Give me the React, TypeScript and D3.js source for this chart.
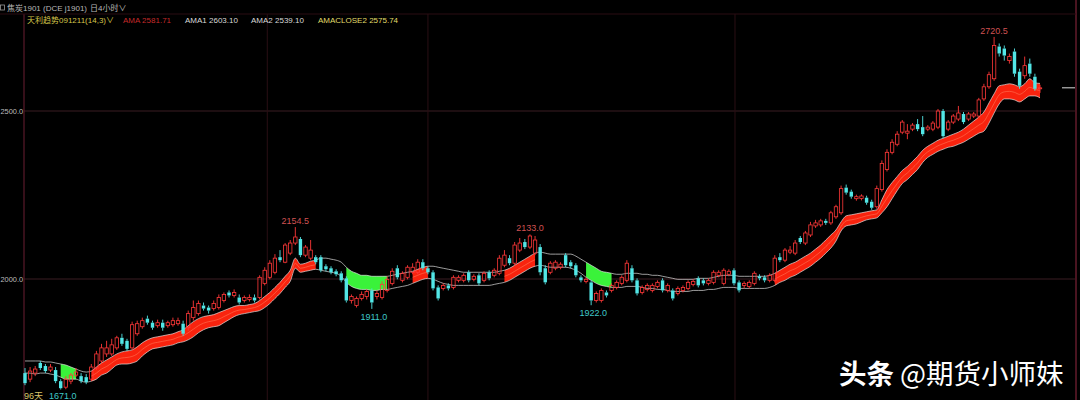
import React from 'react';
import * as d3 from 'd3';

// [open, high, low, close]
const candles: [number, number, number, number][] = [
  [1720,1735,1684,1690],[1702,1738,1693,1726],[1720,1741,1711,1732],[1750,1756,1729,1735],[1741,1747,1720,1726],
  [1729,1747,1723,1738],[1729,1738,1690,1696],[1696,1702,1671,1675],[1678,1711,1672,1702],[1696,1720,1687,1714],
  [1714,1735,1708,1723],[1711,1720,1690,1696],[1708,1717,1687,1693],[1702,1747,1696,1738],[1735,1786,1729,1777],
  [1756,1807,1750,1795],[1777,1816,1768,1795],[1777,1822,1771,1804],[1795,1831,1789,1825],[1825,1837,1801,1807],
  [1816,1822,1786,1792],[1795,1873,1789,1864],[1837,1876,1831,1867],[1858,1885,1852,1876],[1882,1891,1864,1870],
  [1870,1876,1849,1855],[1861,1879,1855,1870],[1870,1879,1846,1855],[1861,1876,1855,1870],[1864,1885,1858,1876],
  [1867,1885,1861,1876],[1867,1876,1831,1837],[1855,1906,1846,1897],[1885,1936,1876,1915],[1897,1936,1891,1927],
  [1921,1930,1906,1912],[1915,1921,1897,1906],[1912,1936,1906,1927],[1915,1954,1909,1945],[1936,1960,1930,1954],
  [1960,1966,1945,1951],[1951,1969,1945,1960],[1945,1954,1924,1930],[1936,1951,1930,1945],[1939,1954,1933,1945],
  [1945,1954,1930,1936],[1945,2011,1939,2005],[1987,2035,1981,2026],[2005,2056,1999,2047],[2020,2074,2014,2062],
  [2065,2086,2050,2056],[2050,2107,2047,2101],[2077,2116,2071,2107],[2107,2154.5,2101,2125],[2119,2125,2065,2071],
  [2071,2101,2065,2095],[2062,2116,2056,2086],[2065,2071,2044,2050],[2065,2071,2020,2026],[2038,2044,2023,2029],
  [2032,2038,2014,2020],[2023,2029,2008,2014],[2017,2023,1990,1996],[2002,2008,1930,1936],[1936,1954,1927,1948],
  [1921,1948,1915,1942],[1942,1963,1936,1954],[1948,1969,1939,1963],[1966,1972,1911,1930],[1948,1966,1939,1957],
  [1945,1993,1939,1984],[1966,2008,1960,1999],[1987,2032,1981,2023],[2032,2041,1999,2005],[1996,2023,1990,2017],
  [2005,2041,1999,2035],[2020,2047,2014,2035],[2020,2059,2014,2050],[2050,2059,2026,2032],[2032,2038,2014,2020],
  [2020,2026,1966,1972],[1975,1981,1936,1942],[1972,1987,1966,1981],[1981,1987,1966,1972],[1975,2011,1969,2005],
  [1996,2011,1990,2005],[1996,2017,1990,2011],[2020,2026,1990,1996],[1999,2014,1993,2008],[2011,2017,1981,1987],
  [1996,2023,1990,2017],[2020,2026,1996,2002],[2011,2032,2005,2026],[2017,2071,2011,2062],[2041,2086,2035,2071],
  [2062,2071,2041,2047],[2047,2110,2041,2101],[2086,2122,2080,2107],[2110,2119,2089,2095],[2095,2133,2089,2128],
  [2077,2128,2071,2116],[2095,2104,2011,2020],[2032,2041,1984,1990],[2020,2053,2014,2047],[2032,2056,2026,2050],
  [2035,2050,2029,2044],[2071,2077,2035,2041],[2050,2056,2032,2038],[2041,2047,2005,2011],[2005,2011,1990,1996],
  [1993,2005,1987,1999],[1990,1996,1922,1936],[1936,1963,1930,1957],[1936,1972,1930,1966],[1960,1966,1945,1951],
  [1966,1987,1960,1981],[1975,1996,1969,1990],[1987,2011,1981,2005],[1996,2056,1990,2047],[2032,2041,1990,1996],
  [1996,2002,1951,1957],[1960,1981,1954,1975],[1969,1987,1963,1981],[1966,1987,1960,1981],[1978,1996,1972,1990],
  [1996,2002,1960,1966],[1966,1987,1960,1981],[1966,1972,1936,1942],[1957,1978,1951,1972],[1966,1981,1960,1975],
  [1972,1996,1966,1990],[1984,1999,1978,1993],[2002,2008,1975,1981],[1996,2002,1981,1987],[1987,2002,1981,1996],
  [1990,2026,1984,2020],[2011,2026,2005,2020],[1987,2032,1981,2026],[2014,2029,2008,2023],[2026,2032,1981,1987],
  [1990,1996,1960,1966],[1981,1993,1972,1987],[1978,1996,1972,1990],[1987,2023,1981,2017],[2008,2014,1996,2002],
  [2005,2011,1990,1996],[1996,2017,1990,2011],[1996,2071,1990,2062],[2065,2077,2050,2056],[2056,2092,2050,2086],
  [2080,2098,2074,2086],[2077,2116,2071,2107],[2122,2128,2104,2110],[2107,2143,2101,2137],[2131,2170,2125,2161],
  [2158,2176,2152,2167],[2161,2179,2155,2173],[2173,2179,2161,2167],[2167,2203,2161,2197],[2185,2221,2179,2215],
  [2197,2278,2191,2269],[2272,2281,2251,2257],[2260,2266,2239,2245],[2239,2251,2233,2245],[2240,2252,2234,2247],
  [2242,2248,2221,2227],[2230,2236,2206,2212],[2215,2278,2209,2269],[2266,2353,2260,2344],[2326,2386,2320,2377],
  [2377,2416,2371,2407],[2401,2440,2395,2431],[2437,2473,2431,2467],[2434,2461,2416,2440],[2446,2464,2440,2458],
  [2461,2476,2440,2446],[2452,2485,2425,2431],[2446,2458,2440,2452],[2446,2470,2440,2464],[2452,2506,2446,2500],
  [2500,2506,2419,2425],[2446,2473,2440,2467],[2467,2491,2461,2485],[2476,2515,2470,2494],[2491,2497,2461,2467],
  [2476,2497,2470,2491],[2485,2497,2479,2491],[2485,2539,2479,2533],[2536,2581,2530,2572],[2572,2617,2566,2608],
  [2596,2720.5,2590,2695],[2692,2701,2662,2671],[2686,2695,2650,2665],[2650,2671,2641,2662],[2677,2686,2602,2611],
  [2617,2626,2566,2575],[2605,2662,2596,2635],[2641,2656,2602,2611],[2602,2611,2560,2566],[2566,2578,2554,2569],
];

const amaUpper: number[] = [
  1756,1756,1756,1756,1753,1753,1750,1747,1744,1738,
  1732,1726,1723,1726,1738,1750,1759,1768,1777,1783,
  1786,1789,1798,1810,1819,1825,1828,1831,1834,1837,
  1843,1849,1861,1873,1882,1888,1891,1894,1900,1906,
  1912,1918,1921,1921,1924,1927,1936,1948,1960,1975,
  1990,2008,2026,2062,2044,2047,2053,2056,2062,2062,
  2059,2056,2050,2035,2023,2017,2011,2011,2008,2008,
  2008,2008,2011,2014,2017,2020,2023,2029,2035,2038,
  2038,2035,2032,2029,2026,2023,2020,2020,2020,2020,
  2020,2020,2020,2023,2026,2032,2041,2050,2059,2068,
  2077,2080,2077,2074,2074,2074,2074,2074,2068,2059,
  2050,2041,2032,2023,2020,2017,2014,2014,2017,2017,
  2017,2014,2014,2011,2011,2008,2005,2002,1999,1999,
  1999,1999,2002,2002,2002,2005,2008,2011,2011,2011,
  2008,2008,2008,2008,2008,2008,2011,2017,2026,2035,
  2044,2050,2059,2068,2077,2089,2101,2116,2131,2146,
  2170,2188,2191,2194,2197,2200,2203,2206,2236,2266,
  2287,2305,2323,2335,2350,2365,2383,2395,2404,2413,
  2419,2425,2431,2437,2446,2458,2470,2482,2497,2524,
  2551,2575,2578,2581,2578,2572,2581,2596,2584,2582,
];

const amaLower: number[] = [
  1720,1720,1717,1720,1720,1717,1714,1708,1702,1702,
  1702,1696,1693,1696,1702,1714,1720,1732,1744,1747,
  1747,1750,1756,1771,1783,1792,1795,1798,1801,1804,
  1810,1813,1819,1828,1840,1849,1855,1858,1861,1870,
  1879,1888,1894,1897,1900,1903,1906,1915,1927,1942,
  1957,1975,1993,2032,2020,2023,2026,2029,2026,2023,
  2020,2017,2008,1990,1978,1972,1969,1969,1966,1966,
  1969,1969,1972,1975,1978,1981,1987,1993,1999,2002,
  1999,1993,1987,1984,1981,1981,1981,1981,1981,1981,
  1981,1981,1984,1987,1990,1996,2005,2014,2023,2032,
  2038,2041,2038,2035,2035,2035,2035,2032,2026,2017,
  2005,1996,1987,1981,1978,1975,1975,1975,1978,1978,
  1978,1975,1972,1972,1969,1969,1966,1963,1963,1963,
  1963,1966,1966,1966,1969,1969,1972,1975,1975,1975,
  1972,1972,1972,1972,1972,1972,1975,1981,1990,1996,
  2005,2011,2020,2029,2038,2050,2062,2077,2092,2113,
  2143,2158,2161,2164,2170,2176,2179,2182,2197,2215,
  2239,2263,2284,2296,2311,2326,2347,2362,2371,2380,
  2386,2392,2395,2401,2407,2416,2425,2434,2440,2464,
  2494,2521,2536,2536,2533,2527,2536,2545,2545,2539,
];

// trend fill segments (candle index ranges)
const fillSegments: { from: number; to: number; trend: 'up' | 'down' }[] = [
  { from: 7, to: 10, trend: 'down' },
  { from: 13, to: 57, trend: 'up' },
  { from: 63, to: 71, trend: 'down' },
  { from: 76, to: 79, trend: 'up' },
  { from: 94, to: 100, trend: 'up' },
  { from: 110, to: 115, trend: 'down' },
  { from: 147, to: 199, trend: 'up' },
];

const yTicks = [2000, 2500];
const highLabels = [{ i: 53, v: 2154.5 }, { i: 99, v: 2133.0 }, { i: 190, v: 2720.5 }];
const lowLabels = [{ i: 7, v: 1671.0 }, { i: 68, v: 1911.0 }, { i: 111, v: 1922.0 }];
const separators = [47.5, 79, 139.2];

const legendItems = [
  { text: 'AMA 2581.71', color: '#c42a2a', x: 123 },
  { text: 'AMA1 2603.10', color: '#d8d8d8', x: 185 },
  { text: 'AMA2 2539.10', color: '#d8d8d8', x: 251 },
  { text: 'AMACLOSE2 2575.74', color: '#e0dc6a', x: 318 },
];

const W = 1080;
const H = 400;
const UP = '#ff3838';
const DOWN = '#52e6e6';

export default function App() {
  const n = candles.length;
  const x = d3.scaleLinear().domain([0, n - 1]).range([25, 1040]);
  const y = d3.scaleLinear().domain([2000, 2500]).range([279, 111]);
  const bw = 3.4;

  const area = d3
    .area<number>()
    .x((i) => x(i))
    .y0((i) => y(amaLower[i]))
    .y1((i) => y(amaUpper[i]))
    .curve(d3.curveMonotoneX);
  const lineU = d3.line<number>().x((i) => x(i)).y((i) => y(amaUpper[i])).curve(d3.curveMonotoneX);
  const lineL = d3.line<number>().x((i) => x(i)).y((i) => y(amaLower[i])).curve(d3.curveMonotoneX);
  const lineM = d3
    .line<number>()
    .x((i) => x(i))
    .y((i) => y((amaUpper[i] + amaLower[i]) / 2))
    .curve(d3.curveMonotoneX);
  const idx = d3.range(n);
  const last = candles[n - 1][3];

  return (
    <svg
      width={W}
      height={H}
      style={{ position: 'absolute', left: 0, top: 0, background: '#000', display: 'block' }}
      fontFamily="'Liberation Sans', 'Noto Sans CJK SC', sans-serif"
    >
      <rect x={0} y={0} width={W} height={H} fill="#000" />
      {/* grid */}
      {yTicks.map((t) => (
        <g key={t}>
          <line x1={24} x2={1076} y1={y(t)} y2={y(t)} stroke="#3a1c22" strokeWidth={1} />
          <text x={0.5} y={y(t) + 3} fontSize={7.4} fill="#bdbdbd" textAnchor="start">
            {t.toFixed(1)}
          </text>
        </g>
      ))}
      {separators.map((s) => (
        <line key={s} x1={x(s)} x2={x(s)} y1={14} y2={H} stroke="#2a0f14" strokeWidth={1} />
      ))}
      <line x1={24} x2={24} y1={14} y2={H} stroke="#5a1a2a" strokeWidth={1.2} />
      <line x1={1076} x2={1076} y1={0} y2={H} stroke="#4a1420" strokeWidth={2} />
      <line x1={0} x2={1076} y1={14} y2={14} stroke="#2a0c12" strokeWidth={1} />

      {/* band fills */}
      {fillSegments.map((s, k) => {
        const seg = d3.range(s.from, s.to + 1);
        return (
          <path
            key={k}
            d={area(seg) || ''}
            fill={s.trend === 'up' ? '#f8230e' : '#3af23a'}
            stroke="none"
          />
        );
      })}
      {fillSegments
        .filter((s) => s.trend === 'up')
        .map((s, k) => (
          <path
            key={'m' + k}
            d={lineM(d3.range(s.from, s.to + 1)) || ''}
            fill="none"
            stroke="#ff7a5a"
            strokeWidth={0.8}
            opacity={0.7}
          />
        ))}
      <path d={lineU(idx) || ''} fill="none" stroke="#e6e6e6" strokeWidth={0.8} opacity={0.85} />
      <path d={lineL(idx) || ''} fill="none" stroke="#e6e6e6" strokeWidth={0.8} opacity={0.85} />

      {/* candles */}
      {candles.map(([o, h, l, c], i) => {
        const cx = x(i);
        const up = c >= o;
        const col = up ? UP : DOWN;
        const top = y(Math.max(o, c));
        const bot = y(Math.min(o, c));
        const bh = Math.max(1, bot - top);
        return (
          <g key={i}>
            <line x1={cx} x2={cx} y1={y(h)} y2={top} stroke={col} strokeWidth={0.9} />
            <line x1={cx} x2={cx} y1={top + bh} y2={y(l)} stroke={col} strokeWidth={0.9} />
            {up ? (
              <rect x={cx - bw / 2} y={top} width={bw} height={bh} fill="#000" fillOpacity={0} stroke={col} strokeWidth={0.8} />
            ) : (
              <rect x={cx - bw / 2} y={top} width={bw} height={bh} fill={col} stroke="none" />
            )}
          </g>
        );
      })}

      {/* extreme labels */}
      {highLabels.map((d) => (
        <text key={d.i} x={x(d.i)} y={y(d.v) - 3} fontSize={9} fill="#d05252" textAnchor="middle">
          {d.v.toFixed(1)}
        </text>
      ))}
      {lowLabels.map((d) => (
        <text key={d.i} x={x(d.i) + 2} y={Math.min(y(d.v) + 11, 399)} fontSize={9} fill="#3fc8c8" textAnchor="middle">
          {d.v.toFixed(1)}
        </text>
      ))}
      <text x={24} y={399} fontSize={9} fill="#d9c56a">96天</text>

      {/* last price marker */}
      <line x1={1062} x2={1075} y1={y(last)} y2={y(last)} stroke="#dddddd" strokeWidth={1} />

      {/* header */}
      <rect x={0.5} y={5} width={4} height={5} fill="none" stroke="#999" strokeWidth={0.8} />
      <text x={7} y={11} fontSize={8} fill="#b8b8b8">焦炭1901 (DCE j1901)</text>
      <text x={90} y={11} fontSize={8} fill="#b8b8b8">日4小时∨</text>
      <text x={27} y={23} fontSize={8} fill="#d4c54a">天利趋势091211(14,3)∨</text>
      {legendItems.map((li) => (
        <text key={li.text} x={li.x} y={23} fontSize={8} fill={li.color}>
          {li.text}
        </text>
      ))}

      {/* watermark */}
      <text x={839} y={384} fontSize={27.5} fill="#ffffff" fontFamily="'Noto Sans CJK SC', sans-serif">
        <tspan fontWeight="bold">头条</tspan>
        <tspan dx={6}>@期货小师妹</tspan>
      </text>
    </svg>
  );
}
